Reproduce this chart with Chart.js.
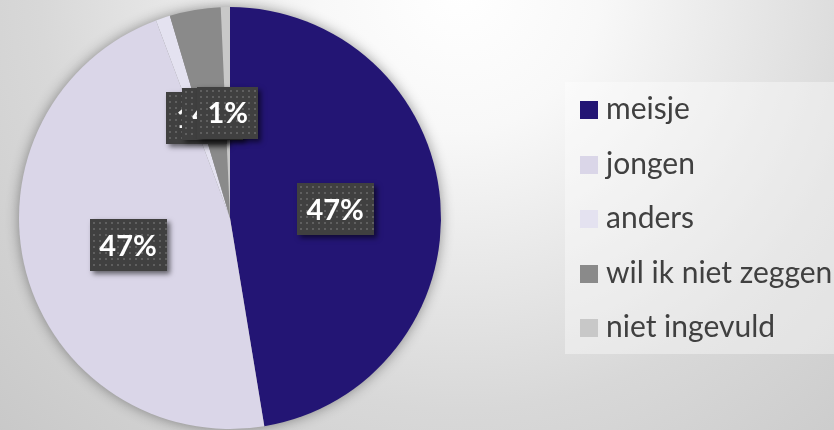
<!DOCTYPE html>
<html>
<head>
<meta charset="utf-8">
<script src="https://cdn.jsdelivr.net/npm/chart.js@4.4.1/dist/chart.umd.min.js"></script>
<style>
  html, body { margin: 0; padding: 0; background: #e0e0e0; }
  #wrap { width: 834px; height: 430px; position: relative; }
</style>
</head>
<body>
<div id="wrap"><canvas id="c" width="834" height="430"></canvas></div>
<script>
const categories = ['meisje', 'jongen', 'anders', 'wil ik niet zeggen', 'niet ingevuld'];
const values = [47.4, 46.9, 1.1, 3.9, 0.7];
const percentLabels = ['47%', '47%', '1%', '4%', '1%'];
const sliceColors = ['#231574', '#dad6e8', '#e4e2f0', '#8a8a8a', '#c8c8c8'];

const bgPlugin = {
  id: 'bg',
  beforeDraw(chart) {
    const ctx = chart.ctx;
    const w = chart.width, h = chart.height;
    ctx.save();
    const g = ctx.createRadialGradient(460, -10, 0, 460, -10, 700);
    g.addColorStop(0, '#ffffff');
    g.addColorStop(0.2, '#f8f8f8');
    g.addColorStop(0.6, '#d8d8d8');
    g.addColorStop(1, '#c4c4c4');
    ctx.fillStyle = g;
    ctx.fillRect(0, 0, w, h);
    ctx.restore();
  },
  beforeDatasetsDraw(chart) {
    const arc = chart.getDatasetMeta(0).data[0];
    if (!arc) return;
    const ctx = chart.ctx;
    ctx.save();
    ctx.shadowColor = 'rgba(0,0,0,0.45)';
    ctx.shadowBlur = 14;
    ctx.fillStyle = '#888';
    ctx.beginPath();
    ctx.arc(arc.x, arc.y, arc.outerRadius - 1, 0, Math.PI * 2);
    ctx.fill();
    ctx.restore();
  }
};

const labelPlugin = {
  id: 'boxLabels',
  afterDatasetsDraw(chart) {
    const ctx = chart.ctx;
    const meta = chart.getDatasetMeta(0);
    ctx.save();
    ctx.font = 'bold 29px Lato';
    ctx.textAlign = 'center';
    ctx.textBaseline = 'middle';
    meta.data.forEach((arc, i) => {
      const p = arc.getCenterPoint();
      const txt = percentLabels[i];
      const tw = ctx.measureText(txt).width;
      const bw = Math.round(tw + 20), bh = 52;
      const bx = Math.round(p.x - bw / 2), by = Math.round(p.y - bh / 2);
      ctx.save();
      ctx.shadowColor = 'rgba(0,0,0,0.55)';
      ctx.shadowBlur = 5;
      ctx.shadowOffsetX = 3;
      ctx.shadowOffsetY = 3;
      ctx.fillStyle = '#404040';
      ctx.fillRect(bx, by, bw, bh);
      ctx.restore();
      ctx.fillStyle = 'rgba(120,120,120,0.55)';
      for (let yy = by + 3; yy < by + bh - 1; yy += 6) {
        for (let xx = bx + 3; xx < bx + bw - 1; xx += 6) {
          ctx.fillRect(xx, yy, 2, 2);
        }
      }
      ctx.fillStyle = '#ffffff';
      ctx.fillText(txt, p.x, p.y + 1);
    });
    ctx.restore();
  }
};

const legendPlugin = {
  id: 'customLegend',
  afterDraw(chart) {
    const ctx = chart.ctx;
    ctx.save();
    ctx.fillStyle = 'rgba(255,255,255,0.38)';
    ctx.fillRect(565, 82, 269, 272);
    const labels = chart.data.labels;
    const colors = chart.data.datasets[0].backgroundColor;
    ctx.font = '30px Lato';
    ctx.textAlign = 'left';
    ctx.textBaseline = 'alphabetic';
    labels.forEach((lab, i) => {
      const top = 101 + i * 54.5;
      ctx.fillStyle = colors[i];
      ctx.fillRect(580, Math.round(top), 18, 18);
      ctx.fillStyle = '#404040';
      ctx.fillText(lab, 606, Math.round(top) + 18);
    });
    ctx.restore();
  }
};

new Chart(document.getElementById('c'), {
  type: 'pie',
  data: {
    labels: categories,
    datasets: [{
      data: values,
      backgroundColor: sliceColors,
      borderWidth: 0
    }]
  },
  options: {
    responsive: false,
    animation: false,
    layout: { padding: { left: 19, top: 7, right: 393, bottom: 1 } },
    plugins: {
      legend: { display: false },
      tooltip: { enabled: false }
    }
  },
  plugins: [bgPlugin, labelPlugin, legendPlugin]
});
</script>
</body>
</html>
